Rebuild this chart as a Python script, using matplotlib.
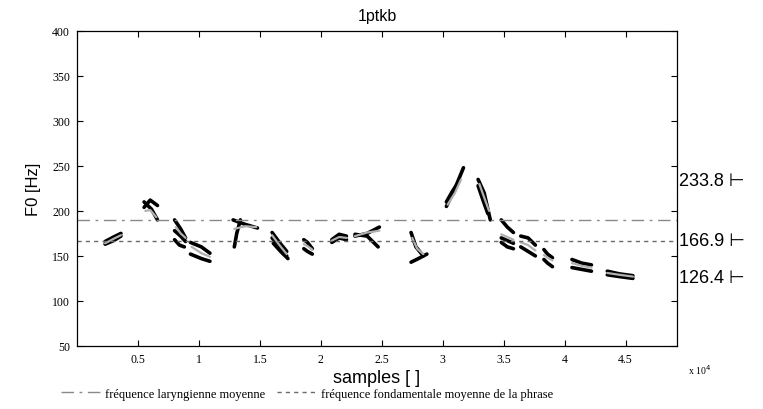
import numpy as np
import matplotlib
matplotlib.use('Agg')
import matplotlib.pyplot as plt

# F0 tracks, x in samples x 1e4, three points per track
black_x = [
    [0.23, 0.30, 0.36], [0.23, 0.30, 0.36],
    [0.55, 0.60, 0.66], [0.55, 0.61, 0.66],
    [0.80, 0.85, 0.89], [0.80, 0.85, 0.89], [0.80, 0.84, 0.88],
    [0.93, 1.02, 1.09], [0.93, 1.02, 1.09],
    [1.29, 1.31, 1.34], [1.28, 1.38, 1.48],
    [1.60, 1.66, 1.72], [1.60, 1.66, 1.72], [1.61, 1.67, 1.73],
    [1.86, 1.89, 1.93], [1.86, 1.89, 1.93],
    [2.09, 2.15, 2.21], [2.09, 2.15, 2.21],
    [2.28, 2.38, 2.48], [2.28, 2.38, 2.47],
    [2.74, 2.78, 2.84], [2.74, 2.80, 2.87],
    [3.03, 3.10, 3.17], [3.03, 3.08, 3.13],
    [3.29, 3.34, 3.39], [3.29, 3.33, 3.37],
    [3.48, 3.53, 3.58], [3.48, 3.53, 3.58], [3.48, 3.53, 3.58],
    [3.64, 3.70, 3.76], [3.64, 3.70, 3.76],
    [3.83, 3.86, 3.90], [3.83, 3.86, 3.90],
    [4.06, 4.14, 4.22], [4.06, 4.14, 4.22],
    [4.35, 4.45, 4.56], [4.35, 4.45, 4.56],
]
black_y = [
    [163, 167, 172], [166, 171, 175],
    [204, 212, 206], [210, 202, 190],
    [190, 180, 170], [178, 172, 166], [168, 162, 160],
    [165, 160, 153], [152, 147, 144],
    [160, 175, 190], [190, 185, 181],
    [176, 165, 155], [170, 160, 150], [164, 155, 147],
    [168, 165, 158], [158, 155, 152],
    [165, 170, 168], [168, 174, 172],
    [172, 175, 182], [174, 172, 160],
    [176, 160, 150], [143, 147, 152],
    [205, 225, 248], [210, 222, 232],
    [235, 220, 190], [228, 212, 197],
    [190, 182, 176], [170, 167, 164], [165, 160, 158],
    [172, 170, 162], [160, 155, 150],
    [157, 152, 148], [146, 142, 138],
    [146, 142, 140], [137, 135, 133],
    [133, 130, 128], [129, 127, 125],
]
gray_x = [
    [0.23, 0.30, 0.36], [0.56, 0.60, 0.65], [0.81, 0.85, 0.89],
    [0.94, 1.02, 1.09], [1.29, 1.38, 1.47], [1.60, 1.66, 1.72],
    [1.86, 1.89, 1.93], [2.09, 2.15, 2.21], [2.28, 2.38, 2.48],
    [2.75, 2.79, 2.84], [3.04, 3.10, 3.15], [3.30, 3.34, 3.38],
    [3.48, 3.53, 3.58], [3.64, 3.70, 3.76], [3.83, 3.86, 3.90],
    [4.06, 4.14, 4.22], [4.35, 4.45, 4.56],
]
gray_y = [
    [164, 169, 173], [200, 201, 193], [182, 175, 170],
    [160, 153, 149], [180, 183, 182], [173, 162, 152],
    [163, 161, 157], [167, 171, 170], [172, 176, 178],
    [170, 158, 152], [207, 220, 235], [230, 215, 200],
    [174, 171, 168], [165, 162, 156], [151, 148, 145],
    [142, 139, 137], [131, 129, 127],
]

f0_laryngeal = 189.5
f0_mean = 166.9
right_marks = [233.8, 166.9, 126.4]
legend_labels = ['fréquence laryngienne moyenne',
                 'fréquence fondamentale moyenne de la phrase']

fig = plt.figure(figsize=(7.63, 4.10), dpi=100)
ax = fig.add_axes([0.101, 0.154, 0.786, 0.768])

for xs, ys in zip(black_x, black_y):
    ax.plot(xs, ys, color='black', lw=2.6, solid_capstyle='round')
for xs, ys in zip(gray_x, gray_y):
    ax.plot(xs, ys, color='#b0b0b0', lw=1.6, solid_capstyle='round')

l1, = ax.plot([0, 4.92], [f0_laryngeal] * 2, color='#8a8a8a', lw=1.0,
              dashes=[9, 4, 2, 4])
l2, = ax.plot([0, 4.92], [f0_mean] * 2, color='#6a6a6a', lw=1.0,
              dashes=[3, 3])

ax.set_xlim(0, 4.92)
ax.set_ylim(50, 400)
ax.set_xticks([0.5, 1, 1.5, 2, 2.5, 3, 3.5, 4, 4.5])
ax.set_xticklabels(['0.5', '1', '1.5', '2', '2.5', '3', '3.5', '4', '4.5'])
ax.set_yticks(np.arange(50, 401, 50))
ax.tick_params(direction='in', length=4, width=0.8, top=True, right=True,
               labelsize=8.5, pad=5)
for lab in ax.get_xticklabels() + ax.get_yticklabels():
    lab.set_family('Liberation Serif')
for s in ax.spines.values():
    s.set_linewidth(0.9)

ax.set_title('1ptkb', fontsize=11.5, family='Liberation Sans', pad=8)
ax.set_xlabel('samples [ ]', fontsize=13, family='Liberation Sans', labelpad=3)
ax.set_ylabel('F0 [Hz]', fontsize=12, family='Liberation Sans', labelpad=8)

for v in right_marks:
    ax.text(1.003, v, '%.1f ⊢' % v, transform=ax.get_yaxis_transform(),
            fontsize=13, family=['Liberation Sans', 'DejaVu Sans'],
            va='center', ha='left')

fig.text(0.902, 0.085, 'x 10$^4$', fontsize=7, family='Liberation Serif')

fig.legend([l1, l2], legend_labels, loc='lower left', ncol=2,
           bbox_to_anchor=(0.065, -0.005), frameon=False,
           prop={'family': 'Liberation Serif', 'size': 9},
           handlelength=3.2, handletextpad=0.3, columnspacing=1.0)

fig.savefig('out.png', dpi=100)
